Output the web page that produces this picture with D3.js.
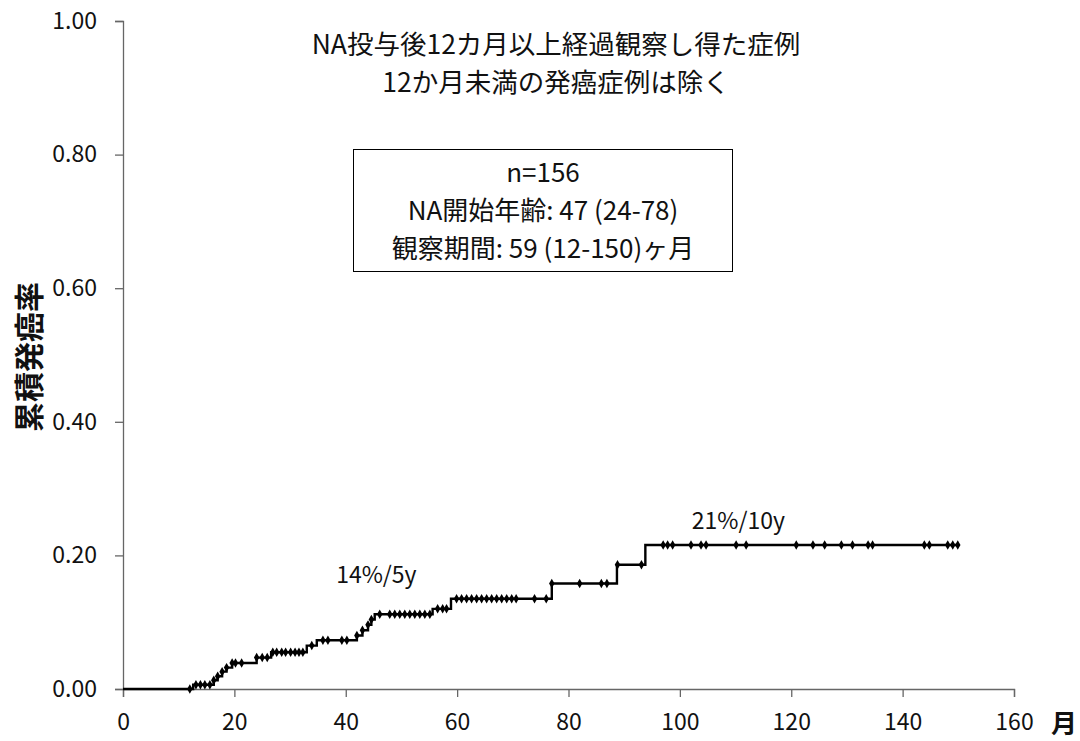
<!DOCTYPE html>
<html>
<head>
<meta charset="utf-8">
<script src="https://cdn.jsdelivr.net/npm/d3@7/dist/d3.min.js"></script>
<style>
  html, body { margin: 0; padding: 0; background: #fff; }
  svg { display: block; }
  text { font-family: "Noto Sans CJK JP", "Noto Sans", sans-serif; fill: #111; }
</style>
</head>
<body>
<svg id="chart" width="1080" height="741"></svg>
<script>
// Cumulative incidence: step times (months) and the value reached at each step
const stepMonths = [0, 12.6, 16.3, 17.0, 17.8, 18.6, 19.6, 24.0, 26.6, 33.0, 34.8,
  42.0, 43.0, 44.0, 44.6, 45.2, 55.6, 58.9, 77.0, 88.7, 93.8, 150.0];
const stepValues = [0, 0.0064, 0.013, 0.019, 0.026, 0.032, 0.039, 0.047, 0.055, 0.065, 0.073,
  0.080, 0.088, 0.096, 0.104, 0.112, 0.120, 0.135, 0.158, 0.186, 0.2156, 0.2156];

// Observation points marked along the curve (months)
const markMonths = [12.0, 13.1, 13.9, 14.7, 15.6, 16.3, 17.0, 17.8, 18.6, 19.6, 20.2, 21.3,
  24.0, 25.0, 25.9, 26.9, 27.6, 28.5, 29.2, 30.1, 30.9, 31.6, 32.3, 33.9,
  35.9, 36.8, 39.3, 40.2, 42.0, 43.0, 44.0, 44.6,
  46.1, 47.9, 48.8, 49.7, 50.6, 51.5, 52.4, 53.3, 54.2, 55.1,
  56.5, 57.4, 58.1,
  59.9, 60.8, 61.7, 62.6, 63.5, 64.4, 65.3, 66.2, 67.1, 68.0, 68.9, 69.8, 70.6, 73.9, 76.0,
  77.0, 82.0, 85.9, 86.9, 88.8, 93.1,
  97.0, 97.8, 98.7, 102.0, 103.8, 104.7, 110.1, 111.9, 120.9, 123.9, 126.0, 129.0, 131.0,
  133.8, 134.6, 143.9, 144.8, 148.1, 149.0, 149.9];

const xTicks = [0, 20, 40, 60, 80, 100, 120, 140, 160];
const yTicks = [0, 0.2, 0.4, 0.6, 0.8, 1.0];

const titleLines = ["NA投与後12カ月以上経過観察し得た症例", "12か月未満の発癌症例は除く"];
const boxLines = ["n=156", "NA開始年齢: 47 (24-78)", "観察期間: 59 (12-150)ヶ月"];
const notes = [
  { month: 45.5, value: 0.158, text: "14%/5y" },
  { month: 110.5, value: 0.24, text: "21%/10y" }
];

const svg = d3.select("#chart");
const x = d3.scaleLinear().domain([0, 160]).range([123, 1014]);
const y = d3.scaleLinear().domain([0, 1]).range([689, 21]);

// Axes
const xAxis = svg.append("g").attr("transform", `translate(0,${y(0)})`)
  .call(d3.axisBottom(x).tickValues(xTicks).tickSize(8).tickPadding(17).tickFormat(d3.format("d")));
const yAxis = svg.append("g").attr("transform", `translate(${x(0)},0)`)
  .call(d3.axisLeft(y).tickValues(yTicks).tickSize(8).tickPadding(18).tickFormat(d3.format(".2f")));
[xAxis, yAxis].forEach(g => {
  g.selectAll("path, line").attr("stroke", "#666").attr("stroke-width", 1.3);
  g.selectAll("text").style("font-size", "23px").attr("fill", "#111");
});

// Unit label and axis title
svg.append("text").attr("x", 1064).attr("y", y(0) + 44).attr("text-anchor", "middle")
  .style("font-size", "26px").style("font-weight", "bold").text("月");
svg.append("text").attr("transform", `translate(40,${y(0.497)}) rotate(-90)`)
  .attr("text-anchor", "middle").style("font-size", "30px").style("font-weight", "bold")
  .text("累積発癌率");

// Step curve
const pts = stepMonths.map((m, i) => [m, stepValues[i]]);
svg.append("path").datum(pts)
  .attr("fill", "none").attr("stroke", "#000").attr("stroke-width", 2.4)
  .attr("d", d3.line().x(d => x(d[0])).y(d => y(d[1])).curve(d3.curveStepAfter));

// Diamond marks on the curve
const valueAt = m => {
  let v = 0;
  stepMonths.forEach((s, i) => { if (s <= m) v = stepValues[i]; });
  return v;
};
svg.append("g").selectAll("path").data(markMonths).join("path")
  .attr("transform", d => `translate(${x(d)},${y(valueAt(d))})`)
  .attr("d", d3.symbol(d3.symbolDiamond, 26))
  .attr("fill", "#000");

// Two-line title
svg.append("g").selectAll("text").data(titleLines).join("text")
  .attr("text-anchor", "middle").style("font-size", "26.5px")
  .attr("x", 556).attr("y", (d, i) => 53.5 + i * 38.5).text(d => d);

// Summary box
svg.append("rect").attr("x", 353.5).attr("y", 149.5).attr("width", 379).attr("height", 122)
  .attr("fill", "#fff").attr("stroke", "#000").attr("stroke-width", 1);
svg.append("g").selectAll("text").data(boxLines).join("text")
  .attr("text-anchor", "middle").style("font-size", "26px")
  .attr("x", 543).attr("y", (d, i) => 182 + i * 38).text(d => d);

// Annotations
svg.append("g").selectAll("text").data(notes).join("text")
  .attr("x", d => x(d.month)).attr("y", d => y(d.value)).attr("text-anchor", "middle")
  .style("font-size", "23px").text(d => d.text);
</script>
</body>
</html>
